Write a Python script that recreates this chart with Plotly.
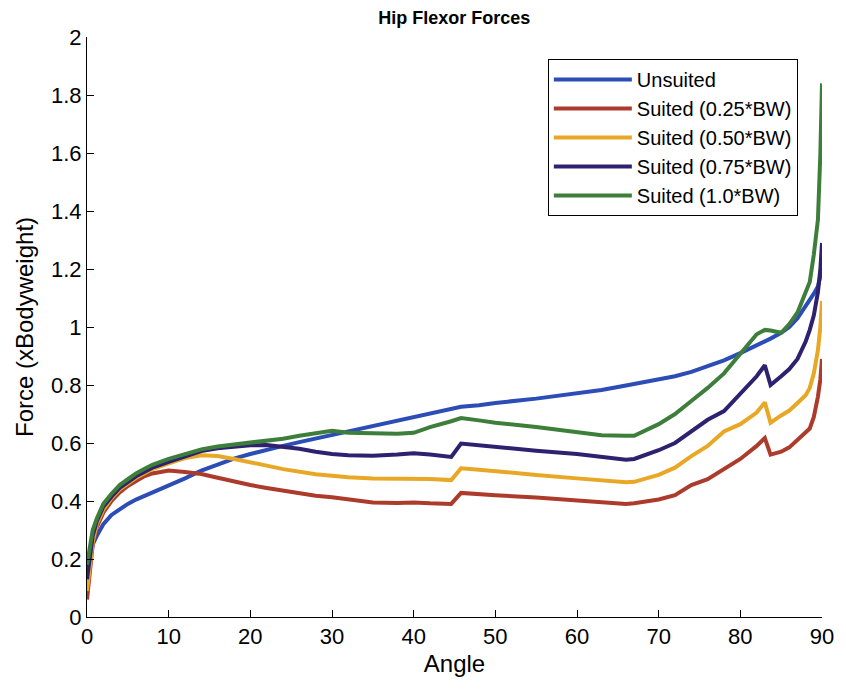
import plotly.graph_objects as go

angle = [0, 0.3, 0.7, 1.2, 2, 3, 4, 5, 6, 7, 8, 10, 12, 14, 16, 18, 20, 22, 24, 26, 28, 30,
         32, 35, 38, 40, 42, 44.6, 45.8, 48, 50, 55, 60, 63, 66, 67, 70, 72, 74, 76, 78, 80,
         82, 83, 83.7, 85, 86, 87, 88, 88.5, 89, 89.5, 89.8, 90]

unsuited = [0.15, 0.2, 0.25, 0.28, 0.32, 0.352, 0.373, 0.39, 0.405, 0.417, 0.428, 0.452, 0.478,
            0.505, 0.527, 0.546, 0.562, 0.577, 0.59, 0.603, 0.615, 0.628, 0.64, 0.657, 0.675,
            0.688, 0.70, 0.715, 0.725, 0.73, 0.738, 0.753, 0.77, 0.783, 0.798, 0.803, 0.818,
            0.83, 0.845, 0.865, 0.885, 0.91, 0.935, 0.95, 0.96, 0.98, 1.0, 1.03, 1.07, 1.09,
            1.115, 1.14, 1.17, 1.2]

suited_025 = [0.06, 0.15, 0.25, 0.31, 0.36, 0.40, 0.43, 0.452, 0.47, 0.485, 0.495, 0.505, 0.50,
              0.493, 0.48, 0.467, 0.455, 0.445, 0.435, 0.425, 0.418, 0.413, 0.405, 0.395, 0.393,
              0.395, 0.392, 0.39, 0.428, 0.425, 0.42, 0.412, 0.402, 0.397, 0.39, 0.392, 0.405,
              0.42, 0.455, 0.475, 0.51, 0.545, 0.59, 0.617, 0.56, 0.57, 0.585, 0.61, 0.635,
              0.65, 0.69, 0.76, 0.82, 0.89]

suited_050 = [0.09, 0.17, 0.26, 0.32, 0.37, 0.41, 0.44, 0.46, 0.48, 0.495, 0.51, 0.53, 0.548,
              0.558, 0.555, 0.545, 0.535, 0.522, 0.51, 0.50, 0.492, 0.487, 0.482, 0.478, 0.478,
              0.479, 0.476, 0.472, 0.513, 0.508, 0.502, 0.49, 0.478, 0.47, 0.465, 0.466, 0.49,
              0.515, 0.555, 0.59, 0.64, 0.665, 0.705, 0.74, 0.67, 0.695, 0.712, 0.738, 0.765,
              0.79, 0.84, 0.92, 1.0, 1.09]

suited_075 = [0.13, 0.2, 0.28, 0.33, 0.38, 0.415, 0.445, 0.465, 0.485, 0.50, 0.515, 0.535, 0.555,
              0.572, 0.582, 0.588, 0.592, 0.593, 0.588, 0.58, 0.57, 0.562, 0.558, 0.556, 0.56,
              0.565, 0.56, 0.552, 0.598, 0.592, 0.585, 0.573, 0.562, 0.552, 0.542, 0.545, 0.575,
              0.60, 0.64, 0.68, 0.71, 0.77, 0.83, 0.868, 0.80, 0.83, 0.855, 0.89, 0.95, 0.99,
              1.04, 1.12, 1.2, 1.29]

suited_100 = [0.18, 0.24, 0.3, 0.34, 0.39, 0.425, 0.455, 0.475, 0.495, 0.51, 0.525, 0.545, 0.56,
              0.578, 0.588, 0.595, 0.60, 0.608, 0.615, 0.625, 0.635, 0.642, 0.635, 0.632, 0.632,
              0.635, 0.655, 0.675, 0.686, 0.678, 0.67, 0.655, 0.638, 0.627, 0.625, 0.625, 0.665,
              0.70, 0.745, 0.79, 0.84, 0.905, 0.975, 0.99, 0.988, 0.98, 1.01, 1.05, 1.115, 1.155,
              1.25, 1.37, 1.6, 1.84]

names = ["Unsuited", "Suited (0.25*BW)", "Suited (0.50*BW)", "Suited (0.75*BW)", "Suited (1.0*BW)"]
series = [unsuited, suited_025, suited_050, suited_075, suited_100]
colors = ["#2c4cb6", "#ad3b2c", "#e8a826", "#2e2170", "#3e7e3b"]

x_ticks = [0, 10, 20, 30, 40, 50, 60, 70, 80, 90]
y_ticks = [0, 0.2, 0.4, 0.6, 0.8, 1, 1.2, 1.4, 1.6, 1.8, 2]
y_tick_text = ["0", "0.2", "0.4", "0.6", "0.8", "1", "1.2", "1.4", "1.6", "1.8", "2"]

fig = go.Figure()
for i, (name, vals, col) in enumerate(zip(names, series, colors)):
    fig.add_trace(go.Scatter(x=angle, y=vals, mode="lines", name=name,
                             line=dict(color=col, width=4)))

font_family = "Liberation Sans, Arial, sans-serif"
fig.update_layout(
    width=846, height=689,
    margin=dict(l=87, r=16, t=37, b=72),
    paper_bgcolor="white", plot_bgcolor="white",
    font=dict(family=font_family, color="black"),
    title=dict(text="<b>Hip Flexor Forces</b>", x=0.537, xanchor="center",
               y=0.975, yanchor="middle", font=dict(size=18, color="black")),
    showlegend=True,
    legend=dict(x=0.627, y=0.962, xanchor="left", yanchor="top",
                bordercolor="black", borderwidth=1, bgcolor="white",
                font=dict(size=20, color="black"), tracegroupgap=0,
                itemwidth=78),
    xaxis=dict(range=[0, 90], tickvals=x_ticks, ticks="inside", ticklen=7,
               tickcolor="black", showline=True, linecolor="black", linewidth=1,
               mirror=False, showgrid=False, zeroline=False,
               tickfont=dict(size=22), title=dict(text="Angle", font=dict(size=24), standoff=6)),
    yaxis=dict(range=[0, 2], tickvals=y_ticks, ticktext=y_tick_text, ticks="inside",
               ticklen=7, tickcolor="black", showline=True, linecolor="black", linewidth=1,
               mirror=False, showgrid=False, zeroline=False,
               tickfont=dict(size=22), title=dict(text="Force (xBodyweight)", font=dict(size=24), standoff=10)),
)

fig.write_html("out.html")
